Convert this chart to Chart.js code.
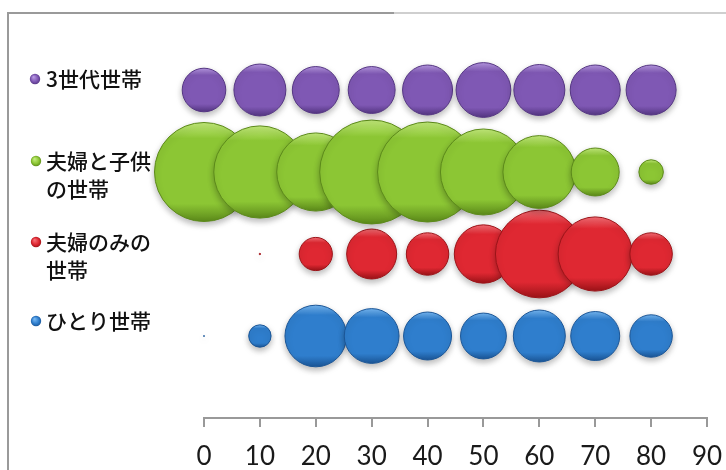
<!DOCTYPE html>
<html>
<head>
<meta charset="utf-8">
<script src="https://cdn.jsdelivr.net/npm/chart.js@4/dist/chart.umd.min.js"></script>
<style>
  html, body { margin: 0; padding: 0; background: #ffffff; }
  #wrap { position: relative; width: 726px; height: 470px; overflow: hidden; }
  #chart { position: absolute; left: 0; top: 0; }
  .frame { position: absolute; background: #9a9a9a; }
  .frame.left { left: 7px; top: 12px; width: 2px; height: 460px; }
  .frame.top { left: 7px; top: 12px; width: 387px; height: 2px; }
  .frame.top2 { left: 394px; top: 12px; width: 332px; height: 2px; background: #cfcfcf; }
</style>
</head>
<body>
<div id="wrap">
  <canvas id="chart" width="726" height="470"></canvas>
  <div class="frame left"></div>
  <div class="frame top"></div>
  <div class="frame top2"></div>
</div>
<script>
// Household types, one bubble row each; bubble area follows the size value.
const xValues = [0, 10, 20, 30, 40, 50, 60, 70, 80];
const xTicks = [0, 10, 20, 30, 40, 50, 60, 70, 80, 90];
const seriesLabels = [['3世代世帯'], ['夫婦と子供', 'の世帯'], ['夫婦のみの', '世帯'], ['ひとり世帯']];
const rowLevels = [4, 3, 2, 1];
const sizesThreeGen = [19, 27, 22, 22, 25, 30, 26, 25, 25];
const sizesCoupleKids = [98, 85, 61, 108, 100, 74, 53, 23, 6];
const sizesCoupleOnly = [null, 0.02, 11, 25, 18, 34, 77, 55, 18];
const sizesSingle = [0.01, 5, 38, 30, 23, 21, 27, 24, 18];

const palette = [
  { base: '#7f58b4', light: '#b596e0', dark: '#553683' },
  { base: '#8cc634', light: '#c2ea7a', dark: '#5c8a1a' },
  { base: '#df2832', light: '#f56d74', dark: '#9c1318' },
  { base: '#2f7ecd', light: '#74b6f2', dark: '#1b5697' }
];

const sizeToRadius = v => 5 * Math.sqrt(v);

function rowPoints(sizes, level) {
  const pts = [];
  sizes.forEach((v, i) => {
    if (v === null) return;
    pts.push({ x: xValues[i], y: level, r: sizeToRadius(v) });
  });
  return pts;
}

// Bevelled fill: bright rim on top, flat body, darker lower edge.
function bevelFill(colors) {
  return function (ctx) {
    if (ctx.type !== 'data' || !ctx.raw) return colors.base;
    const chart = ctx.chart;
    const ys = chart.scales && chart.scales.y;
    if (!ys || !chart.chartArea) return colors.base;
    const cy = ys.getPixelForValue(ctx.raw.y);
    const r = Math.max(ctx.raw.r, 1);
    if (!isFinite(cy) || !isFinite(r)) return colors.base;
    const g = chart.ctx.createLinearGradient(0, cy - r, 0, cy + r);
    g.addColorStop(0, colors.light);
    g.addColorStop(0.16, colors.base);
    g.addColorStop(0.82, colors.base);
    g.addColorStop(1, colors.dark);
    return g;
  };
}

const allSizes = [sizesThreeGen, sizesCoupleKids, sizesCoupleOnly, sizesSingle];
const datasets = allSizes.map((sizes, k) => ({
  label: seriesLabels[k].join(''),
  data: rowPoints(sizes, rowLevels[k]),
  backgroundColor: bevelFill(palette[k]),
  borderColor: palette[k].dark,
  borderWidth: 1,
  clip: false
}));

const bubbleShadow = {
  id: 'bubbleShadow',
  beforeDatasetDraw(chart) {
    const c = chart.ctx;
    c.save();
    c.shadowColor = 'rgba(0,0,0,0.28)';
    c.shadowBlur = 6;
    c.shadowOffsetY = 3;
  },
  afterDatasetDraw(chart) {
    chart.ctx.restore();
  }
};

// Legend column on the left, one entry per row.
const sideLegend = {
  id: 'sideLegend',
  afterDraw(chart, args, opts) {
    const c = chart.ctx;
    c.save();
    opts.items.forEach((it, k) => {
      const col = palette[k];
      const g = c.createRadialGradient(it.x - 1.5, it.y - 2, 0.5, it.x, it.y, 5.5);
      g.addColorStop(0, col.light);
      g.addColorStop(0.6, col.base);
      g.addColorStop(1, col.dark);
      c.beginPath();
      c.arc(it.x, it.y, 5.2, 0, Math.PI * 2);
      c.fillStyle = g;
      c.fill();
      c.fillStyle = '#111111';
      c.font = '500 21px "Noto Sans CJK JP", "Noto Sans", sans-serif';
      c.textBaseline = 'middle';
      c.textAlign = 'left';
      seriesLabels[k].forEach((line, j) => {
        c.fillText(line, opts.textX, it.y + j * opts.lineGap);
      });
    });
    c.restore();
  }
};

new Chart(document.getElementById('chart'), {
  type: 'bubble',
  data: { datasets },
  options: {
    responsive: false,
    animation: false,
    events: [],
    layout: { autoPadding: false, padding: { left: 204, right: 19, top: 8, bottom: 0 } },
    plugins: {
      legend: { display: false },
      tooltip: { enabled: false },
      sideLegend: {
        textX: 46,
        lineGap: 28,
        items: [
          { x: 35, y: 79 },
          { x: 36, y: 161 },
          { x: 36, y: 242 },
          { x: 36, y: 321 }
        ]
      }
    },
    scales: {
      x: {
        type: 'linear',
        min: 0,
        max: 90,
        afterBuildTicks: s => { s.ticks = xTicks.map(v => ({ value: v })); },
        afterFit: s => { s.height = 52; s.paddingLeft = 0; s.paddingRight = 0; },
        grid: { drawOnChartArea: false, drawTicks: true, tickLength: 9, color: '#999999', lineWidth: 2 },
        border: { display: true, color: '#999999', width: 2 },
        ticks: {
          font: { family: 'Lato', size: 26 },
          color: '#1a1a1a',
          padding: 14,
          maxRotation: 0,
          autoSkip: false
        }
      },
      y: { display: false, min: 0, max: 5 }
    }
  },
  plugins: [bubbleShadow, sideLegend]
});
</script>
</body>
</html>
